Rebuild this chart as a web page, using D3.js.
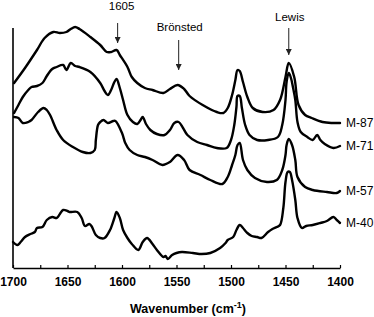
<!DOCTYPE html>
<html>
<head>
<meta charset="utf-8">
<script src="https://cdn.jsdelivr.net/npm/d3@7"></script>
<style>
  body { margin: 0; background: #fff; }
  svg { display: block; font-family: "Liberation Sans", Arial, sans-serif; }
</style>
</head>
<body>
<div id="vis"></div>
<script>
// spectra, wavenumber (cm-1) vs offset absorbance (a.u.)
const m87Wave = [1699,1689,1678,1671,1663,1657,1651,1647,1643,1639,1629,1620,1614,1610,1605,1602,1595,1591,1586,1579,1572,1562,1556,1549,1543,1538,1526,1513,1507,1503,1499,1496,1494,1492,1489,1485,1480,1471,1461,1455,1450,1447,1442,1438,1432,1426,1416,1407,1400];
const m87Abs = [1.85,2.00,2.18,2.30,2.36,2.35,2.36,2.39,2.41,2.39,2.31,2.23,2.16,2.16,2.18,2.13,2.01,1.91,1.85,1.80,1.78,1.75,1.79,1.83,1.79,1.72,1.63,1.56,1.55,1.60,1.73,1.88,1.98,1.97,1.86,1.71,1.60,1.56,1.58,1.68,1.91,2.05,1.91,1.63,1.53,1.50,1.46,1.45,1.45];

const m71Wave = [1699,1695,1691,1686,1683,1678,1673,1669,1664,1660,1654,1651,1647,1643,1639,1629,1620,1616,1613,1610,1607,1605,1602,1599,1595,1590,1586,1583,1581,1578,1574,1568,1561,1556,1552,1548,1544,1540,1531,1522,1513,1504,1500,1497,1495,1494,1492,1490,1487,1483,1476,1466,1457,1453,1450,1449,1447,1445,1443,1441,1439,1436,1430,1425,1421,1418,1414,1406,1400];
const m71Abs = [1.55,1.63,1.71,1.78,1.81,1.82,1.85,1.92,1.99,2.01,2.03,1.98,2.05,2.02,2.01,1.96,1.85,1.77,1.73,1.78,1.86,1.89,1.80,1.68,1.53,1.46,1.44,1.48,1.51,1.44,1.38,1.34,1.33,1.38,1.45,1.46,1.40,1.33,1.26,1.23,1.20,1.20,1.28,1.43,1.61,1.72,1.72,1.60,1.43,1.33,1.28,1.28,1.31,1.43,1.68,1.86,1.95,1.90,1.80,1.68,1.46,1.36,1.31,1.28,1.33,1.28,1.24,1.20,1.22];

const m57Wave = [1699,1695,1691,1686,1683,1677,1672,1669,1666,1660,1654,1645,1636,1629,1625,1624,1622,1620,1617,1613,1608,1606,1600,1597,1593,1586,1579,1572,1563,1556,1549,1543,1538,1528,1519,1508,1503,1499,1496,1494,1492,1489,1485,1478,1467,1458,1453,1450,1449,1447,1444,1441,1439,1432,1425,1412,1403,1400];
const m57Abs = [1.51,1.50,1.45,1.46,1.48,1.56,1.60,1.58,1.53,1.38,1.28,1.21,1.16,1.15,1.18,1.28,1.43,1.46,1.48,1.45,1.47,1.47,1.35,1.25,1.18,1.13,1.11,1.08,1.03,1.06,1.13,1.08,0.98,0.93,0.88,0.84,0.91,1.03,1.13,1.23,1.25,1.08,0.98,0.90,0.86,0.88,0.98,1.13,1.23,1.29,1.23,1.08,0.91,0.81,0.78,0.76,0.75,0.77];

const m40Wave = [1700,1696,1693,1689,1684,1680,1678,1673,1669,1664,1660,1657,1654,1650,1648,1641,1637,1634,1630,1628,1624,1620,1616,1611,1607,1605,1602,1599,1595,1591,1585,1581,1577,1572,1568,1562,1560,1558,1554,1550,1545,1535,1527,1519,1510,1505,1503,1498,1495,1492,1489,1485,1481,1476,1472,1466,1462,1458,1455,1452,1450,1448,1446,1444,1441,1439,1435,1431,1425,1418,1412,1406,1403,1400];
const m40Abs = [0.26,0.23,0.26,0.31,0.34,0.36,0.40,0.41,0.48,0.51,0.50,0.54,0.58,0.57,0.56,0.56,0.50,0.42,0.44,0.42,0.33,0.30,0.30,0.38,0.50,0.56,0.50,0.38,0.30,0.24,0.18,0.26,0.30,0.24,0.18,0.11,0.12,0.09,0.13,0.15,0.16,0.15,0.14,0.15,0.20,0.25,0.28,0.31,0.38,0.43,0.40,0.35,0.32,0.31,0.30,0.36,0.39,0.41,0.43,0.60,0.86,0.96,0.96,0.88,0.68,0.50,0.40,0.42,0.43,0.45,0.47,0.51,0.48,0.45];

const seriesNames = ['M-87', 'M-71', 'M-57', 'M-40'];
const tickLabels = [1700, 1650, 1600, 1550, 1500, 1450, 1400];
const annotNames = ['1605', 'Brönsted', 'Lewis'];
const annotWave = [1604, 1548, 1447];

const series = [
  {name: seriesNames[0], wave: m87Wave, abs: m87Abs},
  {name: seriesNames[1], wave: m71Wave, abs: m71Abs},
  {name: seriesNames[2], wave: m57Wave, abs: m57Abs},
  {name: seriesNames[3], wave: m40Wave, abs: m40Abs}
];

const W = 374, H = 317;
const svg = d3.select('#vis')
  .append('svg')
  .attr('width', W)
  .attr('height', H);

const x = d3.scaleLinear().domain([1700, 1400]).range([13, 340]);
const y = d3.scaleLinear().domain([0, 2.4]).range([268, 28]);

// left axis line (no ticks)
svg.append('line')
  .attr('x1', x(1700)).attr('x2', x(1700))
  .attr('y1', y(2.4)).attr('y2', y(0))
  .attr('stroke', '#000')
  .attr('stroke-width', 1.6);

// bottom axis, ticks every 25 pointing inward
const xAxis = d3.axisBottom(x)
  .tickValues(d3.range(1400, 1701, 25))
  .tickSizeInner(-3)
  .tickSizeOuter(0)
  .tickPadding(9.5)
  .tickFormat(d => tickLabels.includes(d) ? d : '');

const gx = svg.append('g')
  .attr('transform', `translate(0,${y(0)})`)
  .call(xAxis);
gx.select('.domain').attr('stroke-width', 1.6);
gx.selectAll('.tick line').attr('stroke-width', 1.2);
gx.selectAll('.tick text')
  .attr('font-size', 12)
  .attr('font-weight', 'bold')
  .attr('font-family', '"Liberation Sans", Arial, sans-serif')
  .attr('fill', '#000');

// axis title
const title = svg.append('text')
  .attr('x', 188)
  .attr('y', 313)
  .attr('text-anchor', 'middle')
  .attr('font-size', 12.5)
  .attr('font-weight', 'bold');
title.append('tspan').text('Wavenumber (cm');
title.append('tspan').attr('dy', -5).attr('font-size', 9).text('-1');
title.append('tspan').attr('dy', 5).text(')');

// spectra
const line = d3.line()
  .x(d => x(d[0]))
  .y(d => y(d[1]))
  .curve(d3.curveCatmullRom.alpha(0.5));

series.forEach(s => {
  const pts = s.wave.map((w, i) => [w, s.abs[i]]);
  svg.append('path')
    .datum(pts)
    .attr('d', line)
    .attr('fill', 'none')
    .attr('stroke', '#000')
    .attr('stroke-width', 2.4)
    .attr('stroke-linejoin', 'round')
    .attr('stroke-linecap', 'round');

  const last = pts[pts.length - 1];
  svg.append('text')
    .attr('x', x(last[0]) + 6)
    .attr('y', y(last[1]))
    .attr('dy', '0.35em')
    .attr('font-size', 12)
    .text(s.name);
});

// arrow annotations
svg.append('defs').append('marker')
  .attr('id', 'head')
  .attr('viewBox', '0 0 10 10')
  .attr('refX', 10).attr('refY', 5)
  .attr('markerWidth', 6).attr('markerHeight', 6)
  .attr('markerUnits', 'userSpaceOnUse')
  .attr('orient', 'auto')
  .append('path')
  .attr('d', 'M0,0L10,5L0,10Z')
  .attr('fill', '#222');

const annotTextY = [10, 31, 21];
const arrowTop = [23, 40, 28];
const arrowTip = [43, 70, 55];

annotNames.forEach((name, i) => {
  const ax = x(annotWave[i]);
  svg.append('text')
    .attr('x', ax + (i === 0 ? 4 : 1))
    .attr('y', annotTextY[i])
    .attr('text-anchor', 'middle')
    .attr('font-size', 11.5)
    .text(name);
  svg.append('line')
    .attr('x1', ax).attr('x2', ax)
    .attr('y1', arrowTop[i]).attr('y2', arrowTip[i])
    .attr('stroke', '#222')
    .attr('stroke-width', 1)
    .attr('marker-end', 'url(#head)');
});
</script>
</body>
</html>
